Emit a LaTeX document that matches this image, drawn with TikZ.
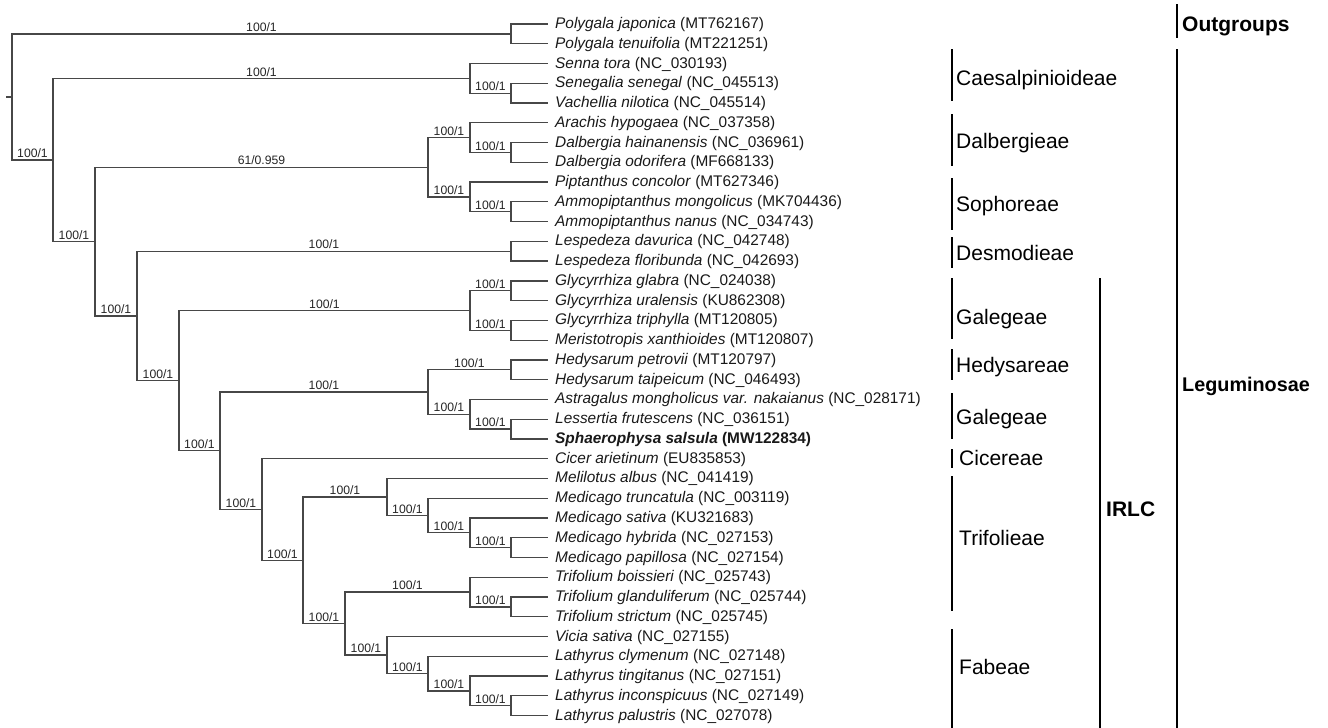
\documentclass[tikz,border=0pt]{standalone}
\usepackage{fontspec}
\setmainfont{Liberation Sans}
\newcommand\rowy[1]{24+19.76*(#1)}
\begin{document}
\begin{tikzpicture}[x=1pt,y=-1pt,
  br/.style={draw=black!72, line width=1.3pt},
  sup/.style={pos=0.75, anchor=south, inner sep=1.5pt, font=\fontsize{12.2}{12}\selectfont, text=black!85},
  taxon/.style={anchor=base west, inner sep=0pt, font=\fontsize{15.4}{16}\selectfont, text=black!90},
  clade/.style={anchor=base west, inner sep=0pt, font=\fontsize{21}{22}\selectfont},
  bar/.style={draw=black, line width=2pt}]
\useasboundingbox (0,0) rectangle (1328,728);

% leaves
\foreach \i/\txt in {
 0/{\textit{Polygala japonica} (MT762167)},
 1/{\textit{Polygala tenuifolia} (MT221251)},
 2/{\textit{Senna tora} (NC\_030193)},
 3/{\textit{Senegalia senegal} (NC\_045513)},
 4/{\textit{Vachellia nilotica} (NC\_045514)},
 5/{\textit{Arachis hypogaea} (NC\_037358)},
 6/{\textit{Dalbergia hainanensis} (NC\_036961)},
 7/{\textit{Dalbergia odorifera} (MF668133)},
 8/{\textit{Piptanthus concolor} (MT627346)},
 9/{\textit{Ammopiptanthus mongolicus} (MK704436)},
 10/{\textit{Ammopiptanthus nanus} (NC\_034743)},
 11/{\textit{Lespedeza davurica} (NC\_042748)},
 12/{\textit{Lespedeza floribunda} (NC\_042693)},
 13/{\textit{Glycyrrhiza glabra} (NC\_024038)},
 14/{\textit{Glycyrrhiza uralensis} (KU862308)},
 15/{\textit{Glycyrrhiza triphylla} (MT120805)},
 16/{\textit{Meristotropis xanthioides} (MT120807)},
 17/{\textit{Hedysarum petrovii} (MT120797)},
 18/{\textit{Hedysarum taipeicum} (NC\_046493)},
 19/{\textit{Astragalus mongholicus var. nakaianus} (NC\_028171)},
 20/{\textit{Lessertia frutescens} (NC\_036151)},
 21/{\textbf{\textit{Sphaerophysa salsula} (MW122834)}},
 22/{\textit{Cicer arietinum} (EU835853)},
 23/{\textit{Melilotus albus} (NC\_041419)},
 24/{\textit{Medicago truncatula} (NC\_003119)},
 25/{\textit{Medicago sativa} (KU321683)},
 26/{\textit{Medicago hybrida} (NC\_027153)},
 27/{\textit{Medicago papillosa} (NC\_027154)},
 28/{\textit{Trifolium boissieri} (NC\_025743)},
 29/{\textit{Trifolium glanduliferum} (NC\_025744)},
 30/{\textit{Trifolium strictum} (NC\_025745)},
 31/{\textit{Vicia sativa} (NC\_027155)},
 32/{\textit{Lathyrus clymenum} (NC\_027148)},
 33/{\textit{Lathyrus tingitanus} (NC\_027151)},
 34/{\textit{Lathyrus inconspicuus} (NC\_027149)},
 35/{\textit{Lathyrus palustris} (NC\_027078)}} {
  \coordinate (l\i) at (548,{\rowy{\i}});
  \node[taxon] (t\i) at (555,{\rowy{\i}+4.5}) {\txt};
}

% internal nodes
\coordinate (stub) at (6,{\rowy{3.6905517578125}});
\coordinate (root) at (12,{\rowy{3.6905517578125}});
\coordinate (pol)  at (511,{\rowy{0.5}});
\coordinate (leg)  at (53,{\rowy{6.881103515625}});
\coordinate (cae)  at (470,{\rowy{2.75}});
\coordinate (sv)   at (511,{\rowy{3.5}});
\coordinate (c95)  at (95,{\rowy{11.01220703125}});
\coordinate (ds)   at (428,{\rowy{7.25}});
\coordinate (dal)  at (470,{\rowy{5.75}});
\coordinate (dal2) at (511,{\rowy{6.5}});
\coordinate (sop)  at (470,{\rowy{8.75}});
\coordinate (amm)  at (511,{\rowy{9.5}});
\coordinate (c137) at (137,{\rowy{14.7744140625}});
\coordinate (les)  at (511,{\rowy{11.5}});
\coordinate (irlc) at (179,{\rowy{18.048828125}});
\coordinate (gly)  at (470,{\rowy{14.5}});
\coordinate (gly1) at (511,{\rowy{13.5}});
\coordinate (gly2) at (511,{\rowy{15.5}});
\coordinate (irl1) at (220,{\rowy{21.59765625}});
\coordinate (hg)   at (428,{\rowy{18.625}});
\coordinate (hed)  at (511,{\rowy{17.5}});
\coordinate (ast)  at (470,{\rowy{19.75}});
\coordinate (ls)   at (511,{\rowy{20.5}});
\coordinate (irl2) at (262,{\rowy{24.5703125}});
\coordinate (irl3) at (303,{\rowy{27.140625}});
\coordinate (mel)  at (387,{\rowy{23.9375}});
\coordinate (med1) at (428,{\rowy{24.875}});
\coordinate (med2) at (470,{\rowy{25.75}});
\coordinate (med3) at (511,{\rowy{26.5}});
\coordinate (tf)   at (345,{\rowy{30.34375}});
\coordinate (tri)  at (470,{\rowy{28.75}});
\coordinate (tri2) at (511,{\rowy{29.5}});
\coordinate (fab)  at (387,{\rowy{31.9375}});
\coordinate (lat1) at (428,{\rowy{32.875}});
\coordinate (lat2) at (470,{\rowy{33.75}});
\coordinate (lat3) at (511,{\rowy{34.5}});

% branches
\draw[br] (stub) -- (root);
\draw[br] (root) |- node[sup]{100/1} (pol);
\draw[br] (root) |- node[sup]{100/1} (leg);
\draw[br] (pol) |- (l0);
\draw[br] (pol) |- (l1);
\draw[br] (leg) |- node[sup]{100/1} (cae);
\draw[br] (leg) |- node[sup]{100/1} (c95);
\draw[br] (cae) |- (l2);
\draw[br] (cae) |- node[sup]{100/1} (sv);
\draw[br] (sv) |- (l3);
\draw[br] (sv) |- (l4);
\draw[br] (c95) |- node[sup]{61/0.959} (ds);
\draw[br] (c95) |- node[sup]{100/1} (c137);
\draw[br] (ds) |- node[sup]{100/1} (dal);
\draw[br] (ds) |- node[sup]{100/1} (sop);
\draw[br] (dal) |- (l5);
\draw[br] (dal) |- node[sup]{100/1} (dal2);
\draw[br] (dal2) |- (l6);
\draw[br] (dal2) |- (l7);
\draw[br] (sop) |- (l8);
\draw[br] (sop) |- node[sup]{100/1} (amm);
\draw[br] (amm) |- (l9);
\draw[br] (amm) |- (l10);
\draw[br] (c137) |- node[sup]{100/1} (les);
\draw[br] (c137) |- node[sup]{100/1} (irlc);
\draw[br] (les) |- (l11);
\draw[br] (les) |- (l12);
\draw[br] (irlc) |- node[sup]{100/1} (gly);
\draw[br] (irlc) |- node[sup]{100/1} (irl1);
\draw[br] (gly) |- node[sup]{100/1} (gly1);
\draw[br] (gly) |- node[sup]{100/1} (gly2);
\draw[br] (gly1) |- (l13);
\draw[br] (gly1) |- (l14);
\draw[br] (gly2) |- (l15);
\draw[br] (gly2) |- (l16);
\draw[br] (irl1) |- node[sup]{100/1} (hg);
\draw[br] (irl1) |- node[sup]{100/1} (irl2);
\draw[br] (hg) |- node[sup]{100/1} (hed);
\draw[br] (hg) |- node[sup]{100/1} (ast);
\draw[br] (hed) |- (l17);
\draw[br] (hed) |- (l18);
\draw[br] (ast) |- (l19);
\draw[br] (ast) |- node[sup]{100/1} (ls);
\draw[br] (ls) |- (l20);
\draw[br] (ls) |- (l21);
\draw[br] (irl2) |- (l22);
\draw[br] (irl2) |- node[sup]{100/1} (irl3);
\draw[br] (irl3) |- node[sup]{100/1} (mel);
\draw[br] (irl3) |- node[sup]{100/1} (tf);
\draw[br] (mel) |- (l23);
\draw[br] (mel) |- node[sup]{100/1} (med1);
\draw[br] (med1) |- (l24);
\draw[br] (med1) |- node[sup]{100/1} (med2);
\draw[br] (med2) |- (l25);
\draw[br] (med2) |- node[sup]{100/1} (med3);
\draw[br] (med3) |- (l26);
\draw[br] (med3) |- (l27);
\draw[br] (tf) |- node[sup]{100/1} (tri);
\draw[br] (tf) |- node[sup]{100/1} (fab);
\draw[br] (tri) |- (l28);
\draw[br] (tri) |- node[sup]{100/1} (tri2);
\draw[br] (tri2) |- (l29);
\draw[br] (tri2) |- (l30);
\draw[br] (fab) |- (l31);
\draw[br] (fab) |- node[sup]{100/1} (lat1);
\draw[br] (lat1) |- (l32);
\draw[br] (lat1) |- node[sup]{100/1} (lat2);
\draw[br] (lat2) |- (l33);
\draw[br] (lat2) |- node[sup]{100/1} (lat3);
\draw[br] (lat3) |- (l34);
\draw[br] (lat3) |- (l35);

% clade bars and labels
\foreach \n/\a/\b in {cae/49/101, dal/114/166, sop/178/230, des/237/268, gal/278/339,
  hed/349/380, galb/393/439, cic/449/468, tri/476/611, fab/629/728} {
  \draw[bar] (952,\a) coordinate (bar\n top) -- (952,\b) coordinate (bar\n bot);
}
\node[clade] (Lcae) at (956,85.5) {Caesalpinioideae};
\node[clade] (Ldal) at (956,148) {Dalbergieae};
\node[clade] (Lsop) at (956,211.7) {Sophoreae};
\node[clade] (Ldes) at (956,260) {Desmodieae};
\node[clade] (Lgal) at (956,324.5) {Galegeae};
\node[clade] (Lhed) at (956,372.3) {Hedysareae};
\node[clade] (Lgalb) at (956,424.7) {Galegeae};
\node[clade] (Lcic) at (959,465.7) {Cicereae};
\node[clade] (Ltri) at (959,545.7) {Trifolieae};
\node[clade] (Lfab) at (959,674) {Fabeae};

\draw[bar] (1100,278) coordinate (irlctop) -- (1100,728) coordinate (irlcbot);
\node[clade,font=\fontsize{21}{22}\selectfont\bfseries] (Lirlc) at (1106,516.3) {IRLC};
\draw[bar] (1177,4) coordinate (outtop) -- (1177,38) coordinate (outbot);
\node[clade,font=\fontsize{21}{22}\selectfont\bfseries] (Lout) at (1182,31) {Outgroups};
\draw[bar] (1177,49) coordinate (legtop) -- (1177,728) coordinate (legbot);
\node[clade,font=\fontsize{19.8}{22}\selectfont\bfseries] (Lleg) at (1182,391.3) {Leguminosae};
\end{tikzpicture}
\end{document}
